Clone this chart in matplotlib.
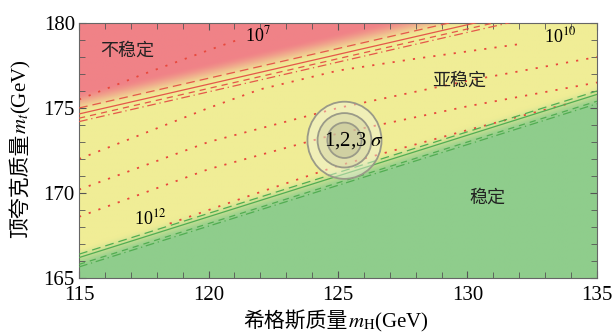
import numpy as np
import matplotlib
matplotlib.use("Agg")
import matplotlib.pyplot as plt
from matplotlib.patches import Ellipse
from matplotlib.transforms import IdentityTransform

# stability boundaries, read at the plot edges (m_H, m_t)
edge_mh = [115, 135]
unstable_mt = [174.65, 181.65]
stable_mt = [166.2, 175.8]
unstable_shift = [0.35, -0.25, -0.45]
stable_shift = [0.2, -0.4, -0.55]

# instability scale contours (dotted)
s7_mh = [115, 117.5, 120, 121.3]
s7_mt = [175.5, 177.0, 178.4, 179.1]
s8_mh = [115, 118, 120, 122, 125, 128, 132.2]
s8_mt = [172.0, 173.8, 175.0, 176.1, 177.2, 177.9, 178.8]
s9_mh = [115, 120, 125, 130, 135]
s9_mt = [170.2, 173.0, 175.0, 176.6, 178.0]
s10_mh = [115, 120, 125, 130, 135]
s10_mt = [168.6, 171.4, 173.5, 175.1, 176.5]
s11_mh = [118.5, 121.7, 125, 130, 134]
s11_mt = [168.2, 169.9, 171.6, 173.7, 175.3]

# measured point and 1,2,3 sigma half widths
mh0, mt0 = 125.25, 173.1
sig_mh = [0.66, 1.04, 1.43]
sig_mt = [1.04, 1.6, 2.27]

red = np.array([240, 130, 135]) / 255
yellow = np.array([240, 237, 150]) / 255
green = np.array([143, 205, 140]) / 255

serif = ['Liberation Serif', 'Noto Sans CJK SC']
cjk = ['Noto Sans CJK SC']
plt.rcParams['mathtext.fontset'] = 'stix'
plt.rcParams['font.family'] = serif

fig = plt.figure(figsize=(6.14, 3.32), dpi=100)
ax = fig.add_axes([0.1287, 0.1627, 0.8436, 0.768])

# background with soft transitions
gx = np.linspace(115, 135, 500)
gy = np.linspace(165, 180, 300)
X, Y = np.meshgrid(gx, gy)
du = Y - np.interp(X, edge_mh, unstable_mt)
ds = Y - np.interp(X, edge_mh, stable_mt)


def smooth(t):
    t = np.clip(t, 0, 1)
    return t * t * (3 - 2 * t)


tr = smooth((du - 0.0) / 1.3)
tg = smooth((0.6 - ds) / 1.3)
img = yellow[None, None, :] * np.ones(X.shape + (3,))
img = img * (1 - tr[..., None]) + red * tr[..., None]
img = img * (1 - tg[..., None]) + green * tg[..., None]
ax.imshow(img, extent=[115, 135, 165, 180], origin='lower', aspect='auto',
          interpolation='bilinear', zorder=0)

# dotted instability scale lines
for mh, mt in [(s7_mh, s7_mt), (s8_mh, s8_mt), (s9_mh, s9_mt),
               (s10_mh, s10_mt), (s11_mh, s11_mt)]:
    ax.plot(mh, mt, color='#e8483c', lw=1.3, ls=(0, (1.2, 4.5)), zorder=2)

# boundary lines
styles = [(0, (7, 4)), (0, (5, 4)), (0, (7, 3, 1, 3))]
ax.plot(edge_mh, unstable_mt, color='#e4584a', lw=0.9, zorder=3)
for sh, st in zip(unstable_shift, styles):
    ax.plot(edge_mh, np.array(unstable_mt) + sh, color='#e4584a', lw=0.9, ls=st, zorder=3)
ax.plot(edge_mh, stable_mt, color='#52ad52', lw=0.9, zorder=3)
for sh, st in zip(stable_shift, styles):
    ax.plot(edge_mh, np.array(stable_mt) + sh, color='#52ad52', lw=0.9, ls=st, zorder=3)

# sigma ellipses
fills = [(0.70, 0.70, 0.55, 0.35), (0.78, 0.78, 0.62, 0.35), (0.95, 0.95, 0.88, 0.45)]
for a, b, fc in reversed(list(zip(sig_mh, sig_mt, fills))):
    ax.add_patch(Ellipse((mh0, mt0), 2 * a, 2 * b, facecolor=fc,
                         edgecolor='#9a9a88', lw=1.3, zorder=4))

ax.text(125.6, 173.1, r'1,2,3 $\sigma$', fontsize=15, ha='center', va='center',
        family=serif, zorder=5)
ax.text(116.85, 178.4, '不稳定', fontsize=13, ha='center', va='center', family=cjk, color='#222222')
ax.text(129.67, 176.6, '亚稳定', fontsize=13, ha='center', va='center', family=cjk, color='#222222')
ax.text(130.75, 169.7, '稳定', fontsize=13, ha='center', va='center', family=cjk, color='#222222')
ax.text(121.9, 179.3, r'10$^{7}$', fontsize=13, ha='center', va='center', family=serif)
ax.text(133.6, 179.2, r'10$^{10}$', fontsize=13, ha='center', va='center', family=serif)
ax.text(117.75, 168.5, r'10$^{12}$', fontsize=13, ha='center', va='center', family=serif)

ax.set_xlim(115, 135)
ax.set_ylim(165, 180)
ax.set_xticks([115, 120, 125, 130, 135])
ax.set_yticks([165, 170, 175, 180])
ax.set_xticks(np.arange(115, 136, 1), minor=True)
ax.set_yticks(np.arange(165, 181, 1), minor=True)
ax.tick_params(which='both', direction='in', top=True, right=True, color='#555555',
               labelsize=15)
ax.tick_params(axis='x', pad=6)
ax.tick_params(axis='y', pad=3)
ax.tick_params(which='major', length=5)
ax.tick_params(which='minor', length=4)
for sp in ax.spines.values():
    sp.set_color('#666666')


# axis titles: Chinese part and math part as separate texts, laid end to end
def piece_label(cx, cy, pieces, vertical=False):
    renderer = fig.canvas.get_renderer()
    made = []
    for s, fam in pieces:
        t = fig.text(0, 0, s, fontsize=15, family=fam, transform=IdentityTransform(),
                     rotation=90 if vertical else 0, rotation_mode='anchor',
                     ha='left', va='baseline')
        made.append(t)
    sizes = []
    for t in made:
        bb = t.get_window_extent(renderer)
        sizes.append(bb.height if vertical else bb.width)
    pos = (cy if vertical else cx) - sum(sizes) / 2
    for t, sz in zip(made, sizes):
        if vertical:
            t.set_position((cx, pos))
        else:
            t.set_position((pos, cy))
        pos += sz


piece_label(336, 5, [('希格斯质量', cjk), (r'$m_{\rm H}$(GeV)', serif)])
piece_label(26, 183, [('顶夸克质量', cjk), (r'$m_t$(GeV)', serif)], vertical=True)

fig.savefig('out.png', dpi=100)
